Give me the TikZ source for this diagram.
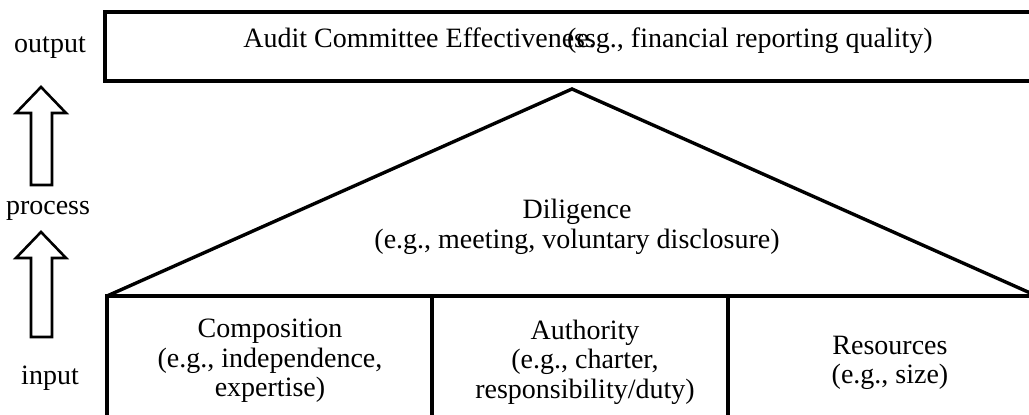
\documentclass[tikz,border=0pt]{standalone}
\usepackage{fontspec}
\setmainfont{Liberation Serif}
\usetikzlibrary{positioning, calc}
\tikzset{
  frame/.style={draw, line width=1.7pt, line join=miter},
  txt/.style={align=center, inner sep=0pt,
              font=\fontsize{14}{14.8}\selectfont},
  sidetxt/.style={txt, anchor=base},
  hollowarrow/.style={draw, line width=1.3pt, fill=white, line join=miter},
}

\begin{document}
\begin{tikzpicture}[x=0.5pt, y=-0.5pt]
  \useasboundingbox (0,0) rectangle (1029,415);
  \clip (0,0) rectangle (1029,415);

  % output
  \draw[frame] (105,12) rectangle (1045,81);
  \node[txt, anchor=base west] (acname) at (243,48) {Audit Committee Effectiveness};
  \node[txt, anchor=base east] (acexample) at (933,48) {(e.g., financial reporting quality)};

  % process
  \coordinate (apex) at (572,89);
  \coordinate (baseL) at (107,296);
  \coordinate (baseR) at (1037,296);
  \draw[frame] (baseL) -- (apex) -- (baseR);
  \node[txt] (diligence) at (577,227) {Diligence\\(e.g., meeting, voluntary disclosure)};

  % input
  \draw[frame] (baseL) rectangle (1045,440);
  \draw[frame] (432,296) -- (432,440);
  \draw[frame] (728,296) -- (728,440);
  \node[txt] (composition) at (270,361) {Composition\\(e.g., independence,\\expertise)};
  \node[txt] (authority) at (585,362) {Authority\\(e.g., charter,\\responsibility/duty)};
  \node[txt] (resources) at (890,363) {Resources\\(e.g., size)};

  % levels
  \node[sidetxt] (output) at (50,53) {output};
  \node[sidetxt] (process) at (48,215) {process};
  \node[sidetxt] (input) at (50,385) {input};

  \foreach \tip/\bot in {87/185, 232/337}
    \draw[hollowarrow] (41,\tip) -- (66,\tip+26) -- (52,\tip+26) -- (52,\bot)
      -- (31,\bot) -- (31,\tip+26) -- (16,\tip+26) -- cycle;

\end{tikzpicture}
\end{document}
